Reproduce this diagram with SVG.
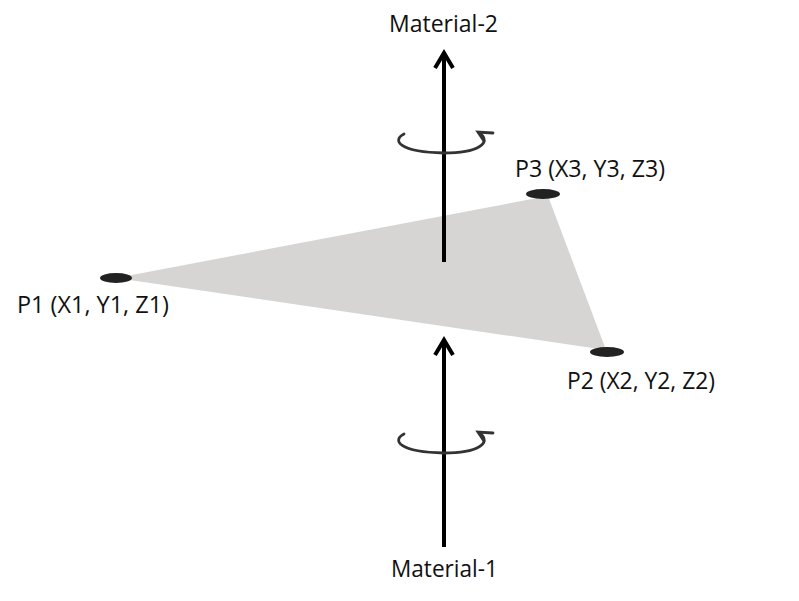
<svg xmlns="http://www.w3.org/2000/svg" width="799" height="601" viewBox="0 0 799 601">
<style>
.lbl{font-family:"Open Sans","Noto Sans",sans-serif;font-size:23px;fill:#111}
.dot{fill:#222}
.ax{stroke:#000;stroke-width:4;fill:none;stroke-linecap:butt}
.head{stroke:#000;stroke-width:4;fill:none;stroke-linejoin:miter}
.rot{stroke:#333;stroke-width:2.8;fill:none;stroke-linecap:round}
</style>
<rect width="799" height="601" fill="#fff"/>
<g id="triangle">
<polygon points="116,278 548,196 606,350" fill="#d7d4d4"/>
</g>
<g id="connectors">
<line class="ax" x1="444" y1="262" x2="444" y2="52"/>
<polyline class="head" points="435,68 444,53 453,68"/>
<line class="ax" x1="444" y1="547" x2="444" y2="339"/>
<polyline class="head" points="435,355 444,340 453,355"/>
<path class="rot" d="M404,134 C392,140 398,152 444,153 C478,153 492,143 480,133"/>
<polyline class="rot" points="493,133 478,132 484,141"/>
<path class="rot" d="M404,434 C392,440 398,452 444,453 C478,453 492,443 480,433"/>
<polyline class="rot" points="493,433 478,432 484,441"/>
</g>
<g id="P1"><ellipse class="dot" cx="116" cy="278" rx="16" ry="5"/><text class="lbl" x="17" y="313" textLength="152" lengthAdjust="spacingAndGlyphs">P1 (X1, Y1, Z1)</text></g>
<g id="P3"><ellipse class="dot" cx="543" cy="194" rx="17" ry="5"/><text class="lbl" x="515" y="177" textLength="150" lengthAdjust="spacingAndGlyphs">P3 (X3, Y3, Z3)</text></g>
<g id="P2"><ellipse class="dot" cx="607" cy="352" rx="17" ry="5"/><text class="lbl" x="567" y="389" textLength="148" lengthAdjust="spacingAndGlyphs">P2 (X2, Y2, Z2)</text></g>
<g id="material2"><text class="lbl" x="389" y="32" textLength="109" lengthAdjust="spacingAndGlyphs">Material-2</text></g>
<g id="material1"><text class="lbl" x="391" y="577" textLength="107" lengthAdjust="spacingAndGlyphs">Material-1</text></g>
</svg>
